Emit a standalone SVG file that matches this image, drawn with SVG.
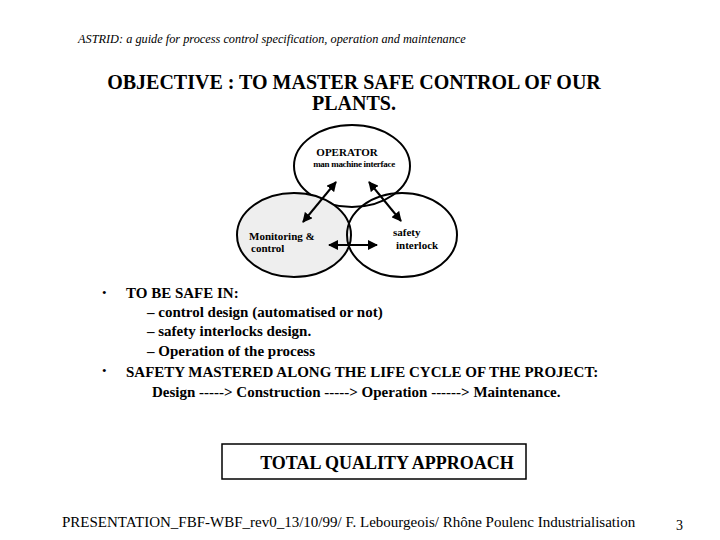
<svg xmlns="http://www.w3.org/2000/svg" width="720" height="540" viewBox="0 0 720 540">
<style>
text{font-family:"Liberation Serif","Times New Roman",serif;fill:#000}
.n{fill:#fff;stroke:#000;stroke-width:2}
.c{stroke:#000;stroke-width:2;fill:none;marker-start:url(#a);marker-end:url(#a)}
.s{font-size:11px;font-weight:bold}
.b{font-size:15px;font-weight:bold}
</style>
<defs><marker id="a" viewBox="0 0 10 10" refX="9" refY="5" markerWidth="5" markerHeight="5" orient="auto-start-reverse"><path d="M0,0L10,5L0,10z" fill="#000"/></marker></defs>
<rect width="720" height="540" fill="#fff"/>
<text x="78" y="43" font-size="12.3" font-style="italic">ASTRID: a guide for process control specification, operation and maintenance</text>
<text x="354" y="89" font-size="20" font-weight="bold" text-anchor="middle">OBJECTIVE : TO MASTER SAFE CONTROL OF OUR</text>
<text x="354" y="110" font-size="20" font-weight="bold" text-anchor="middle">PLANTS.</text>
<g id="operator"><ellipse class="n" cx="352" cy="166" rx="58" ry="41"/>
<text class="s" x="347" y="156" text-anchor="middle" font-size="10">OPERATOR</text>
<text x="354" y="167" text-anchor="middle" font-size="9" font-weight="bold" letter-spacing="-0.3">man machine interface</text></g>
<g id="monitoring"><ellipse class="n" cx="294" cy="235" rx="57" ry="42" style="fill:#eeeeee"/>
<text class="s" x="249" y="240">Monitoring &amp;</text>
<text class="s" x="251" y="252">control</text></g>
<g id="safety"><ellipse class="n" cx="402" cy="235" rx="55" ry="42" style="fill:none"/>
<text class="s" x="393" y="236">safety</text>
<text class="s" x="396" y="249">interlock</text></g>
<g id="connectors">
<line class="c" x1="336" y1="182" x2="303" y2="222"/>
<line class="c" x1="369" y1="182" x2="401" y2="221"/>
<line class="c" x1="329" y1="245" x2="377" y2="245"/>
</g>
<g>
<text x="102" y="297" font-size="13">•</text>
<text class="b" x="126" y="298">TO BE SAFE  IN:</text>
<text class="b" x="147" y="317">–  control design (automatised or not)</text>
<text class="b" x="147" y="336">–  safety interlocks design.</text>
<text class="b" x="147" y="356">–  Operation of the process</text>
<text x="102" y="375" font-size="13">•</text>
<text class="b" x="126" y="377">SAFETY MASTERED ALONG THE LIFE CYCLE OF THE PROJECT:</text>
<text class="b" x="152" y="397">Design -----&gt; Construction -----&gt; Operation ------&gt; Maintenance.</text>
</g>
<g id="tqa"><rect x="222" y="444" width="304" height="35" fill="#fff" stroke="#000" stroke-width="1.5"/>
<text x="387" y="469" font-size="18" font-weight="bold" text-anchor="middle">TOTAL QUALITY APPROACH</text></g>
<text x="62" y="527" font-size="15">PRESENTATION_FBF-WBF_rev0_13/10/99/ F. Lebourgeois/ Rhône Poulenc Industrialisation</text>
<text x="676" y="530" font-size="14">3</text>
</svg>
